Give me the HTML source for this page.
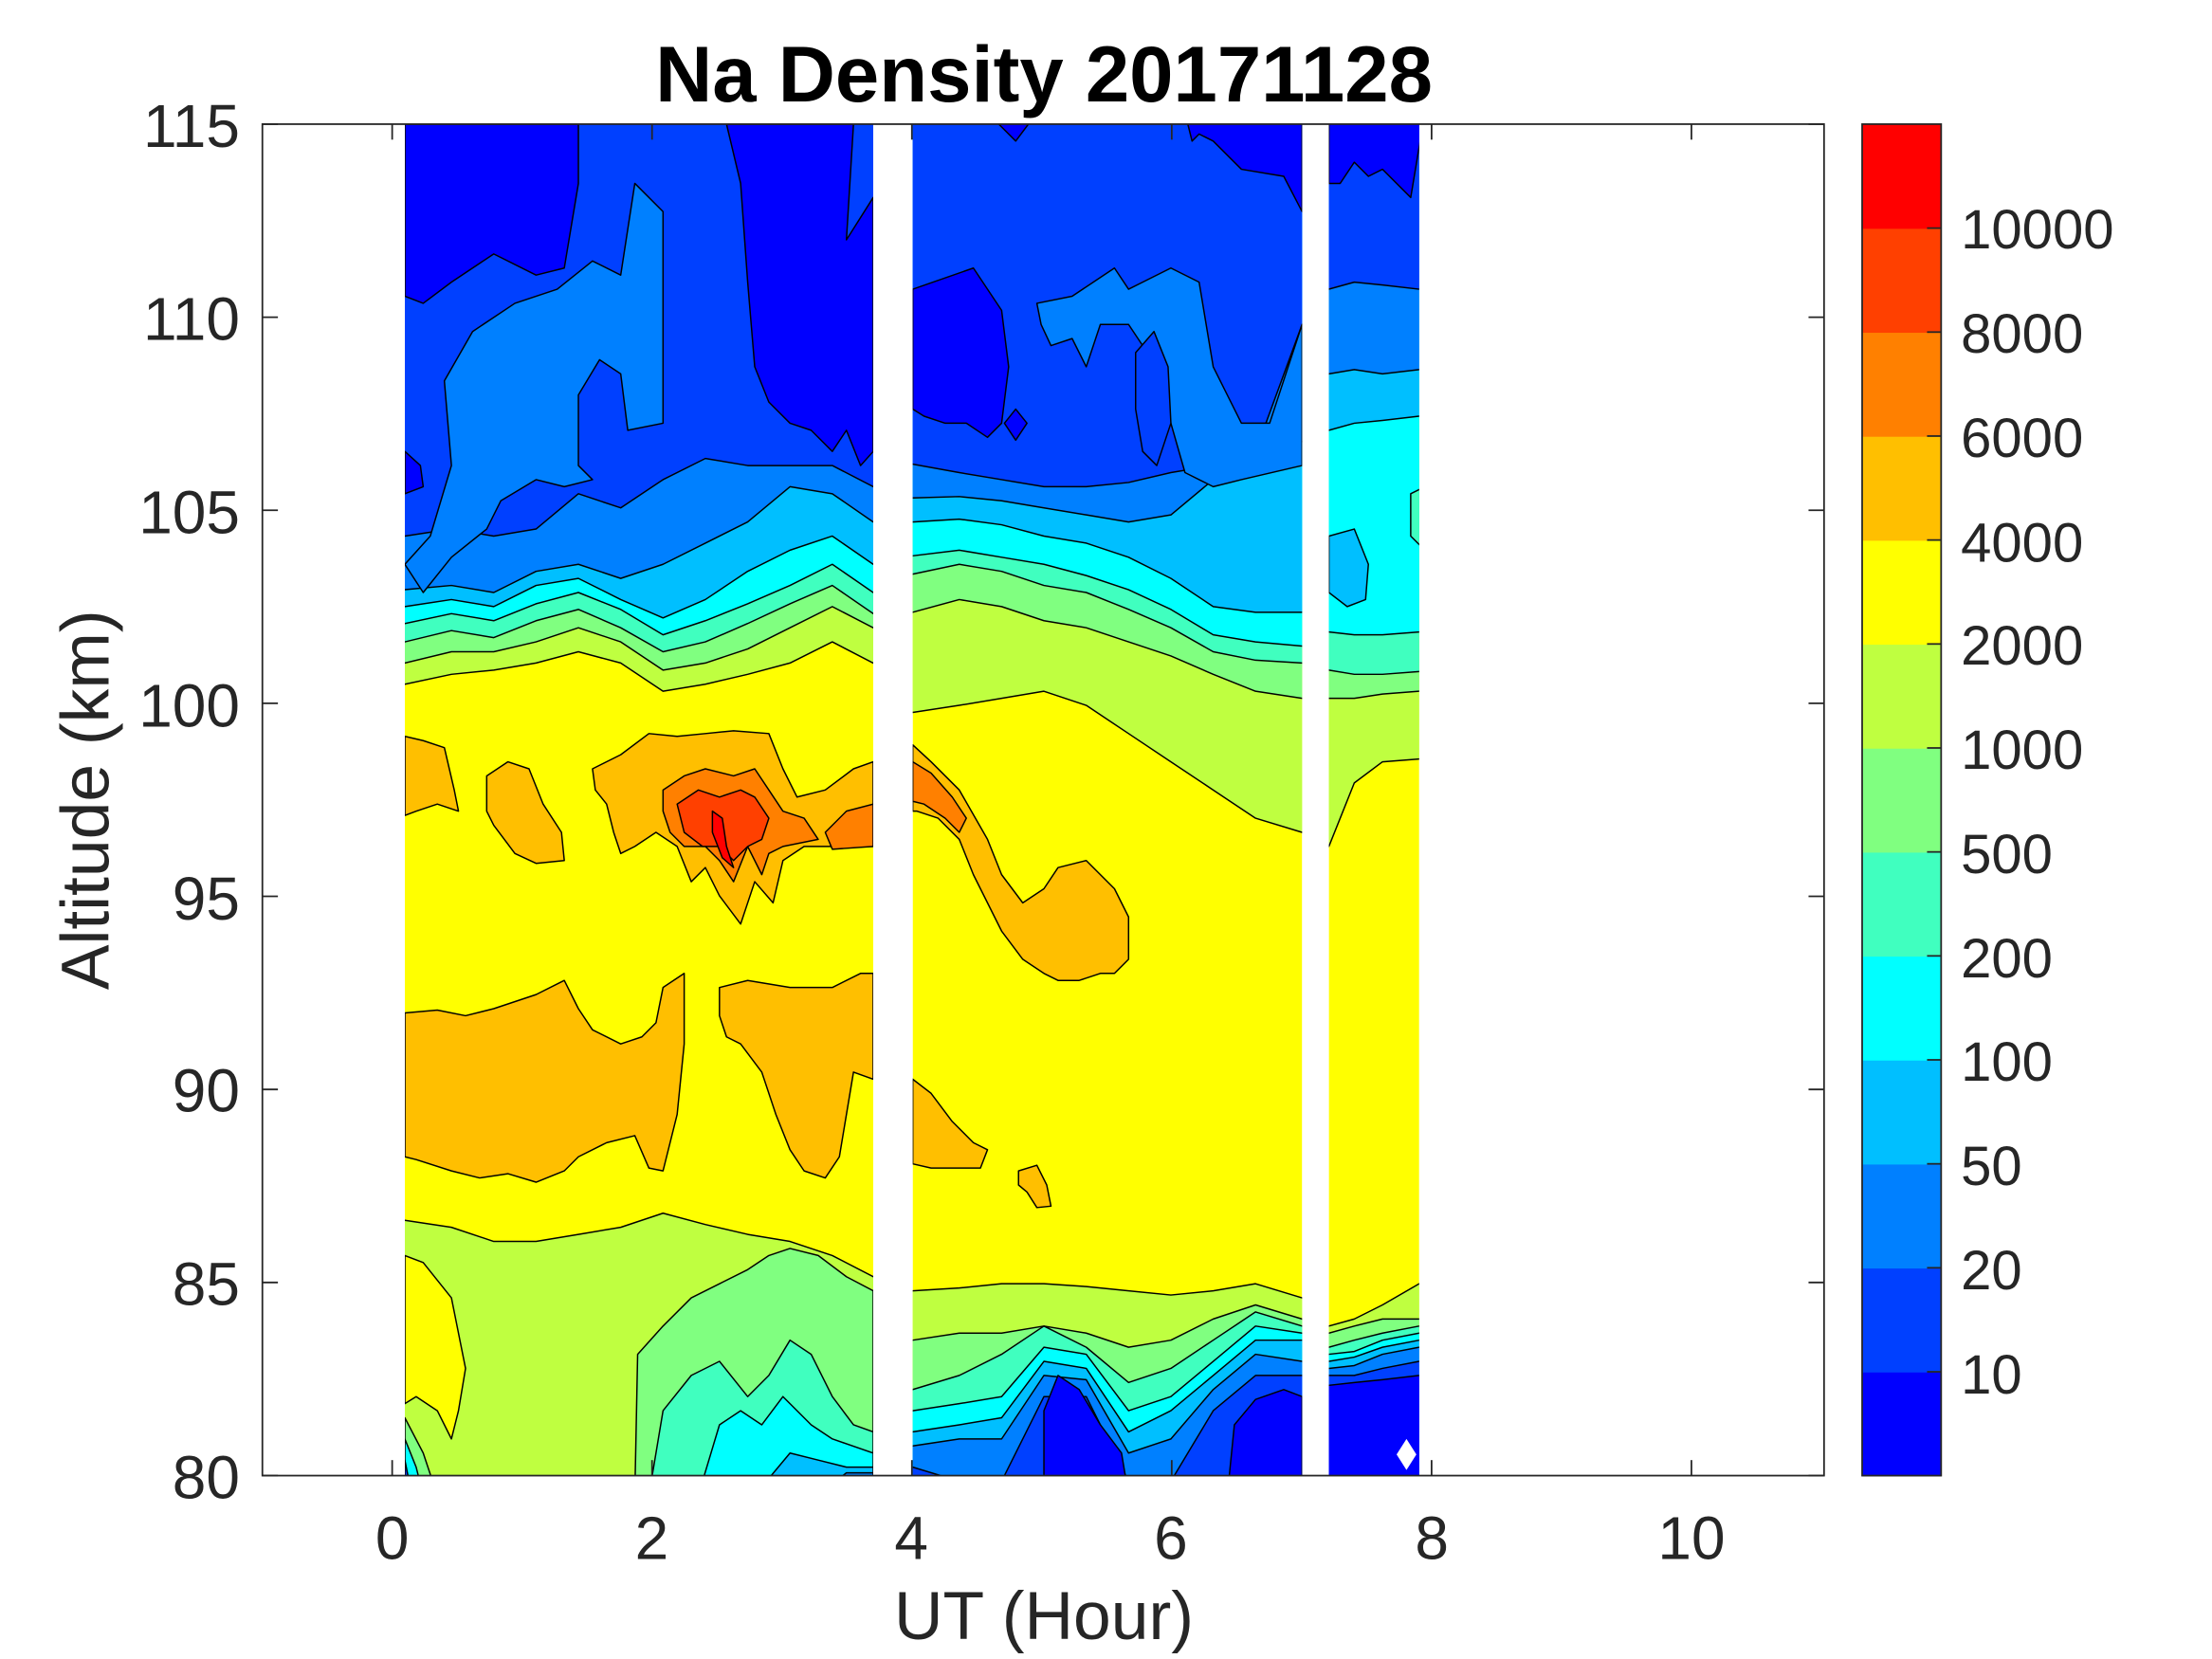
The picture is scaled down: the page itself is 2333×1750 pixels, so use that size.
<!DOCTYPE html>
<html><head><meta charset="utf-8">
<style>
html,body{margin:0;padding:0;background:#fff;}
svg{display:block;}
text{font-family:"Liberation Sans",Arial,sans-serif;fill:#262626;}
</style></head>
<body>
<svg id="s" xmlns="http://www.w3.org/2000/svg" width="2333" height="1750" viewBox="0 0 1568 1176" preserveAspectRatio="none">
<defs>
<clipPath id="c1"><rect x="287" y="88" width="332" height="958"/></clipPath>
<clipPath id="c2"><rect x="647" y="88" width="276" height="958"/></clipPath>
<clipPath id="c3"><rect x="942" y="88" width="64" height="958"/></clipPath>
</defs>
<rect x="0" y="0" width="1568" height="1176" fill="#fff"/>
<g id="g1" clip-path="url(#c1)"></g>
<g id="g2" clip-path="url(#c2)"></g>
<g id="g3" clip-path="url(#c3)"></g>
<g id="axes"></g>
<text x="740" y="72" font-size="56" font-weight="bold" text-anchor="middle" style="fill:#000">Na Density 20171128</text>
<text x="740" y="1162" font-size="48" text-anchor="middle">UT (Hour)</text>
<text transform="translate(77,567) rotate(-90)" font-size="48" text-anchor="middle">Altitude (km)</text>
<g font-size="43" text-anchor="middle">
<text x="278" y="1105">0</text><text x="462" y="1105">2</text><text x="646" y="1105">4</text>
<text x="830" y="1105">6</text><text x="1015" y="1105">8</text><text x="1199" y="1105">10</text>
</g>
<g font-size="43" text-anchor="end">
<text x="170" y="104">115</text><text x="170" y="241">110</text><text x="170" y="378">105</text>
<text x="170" y="515">100</text><text x="170" y="652">95</text><text x="170" y="788">90</text>
<text x="170" y="925">85</text><text x="170" y="1062">80</text>
</g>
<g font-size="39">
<text x="1390" y="176">10000</text><text x="1390" y="250">8000</text><text x="1390" y="324">6000</text>
<text x="1390" y="398">4000</text><text x="1390" y="471">2000</text><text x="1390" y="545">1000</text>
<text x="1390" y="619">500</text><text x="1390" y="693">200</text><text x="1390" y="766">100</text>
<text x="1390" y="840">50</text><text x="1390" y="914">20</text><text x="1390" y="988">10</text>
</g>
</svg>
<script>
var NS="http://www.w3.org/2000/svg";
var C=["#0000FF","#0040FF","#0080FF","#00BFFF","#00FFFF","#40FFBF","#80FF80","#BFFF40","#FFFF00","#FFBF00","#FF8000","#FF4000","#FF0000"];
function poly(g,pts,col){var p=document.createElementNS(NS,"polygon");
 p.setAttribute("points",pts.map(function(q){return q[0]+","+q[1];}).join(" "));
 p.setAttribute("fill",col);p.setAttribute("stroke","#000");p.setAttribute("stroke-width","1");p.setAttribute("stroke-linejoin","round");
 document.getElementById(g).appendChild(p);}
function P(a){var r=[];for(var i=0;i<a.length;i+=2)r.push([a[i],a[i+1]]);return r;}
function topBand(g,xs,ys,col){var pts=[[xs[0]-5,80]];for(var i=0;i<xs.length;i++)pts.push([xs[i],ys[i]]);pts[0]=[xs[0]-5,ys[0]];pts.unshift([xs[0]-5,80]);pts.push([xs[xs.length-1]+5,ys[ys.length-1]]);pts.push([xs[xs.length-1]+5,80]);poly(g,pts,col);}
function botBand(g,xs,ys,col){var pts=[[xs[0]-5,1060],[xs[0]-5,ys[0]]];for(var i=0;i<xs.length;i++)pts.push([xs[i],ys[i]]);pts.push([xs[xs.length-1]+5,ys[ys.length-1]]);pts.push([xs[xs.length-1]+5,1060]);poly(g,pts,col);}
function rect(g,x,y,w,h,col){var r=document.createElementNS(NS,"rect");r.setAttribute("x",x);r.setAttribute("y",y);r.setAttribute("width",w);r.setAttribute("height",h);r.setAttribute("fill",col);document.getElementById(g).appendChild(r);}

/* Block 1 */
rect("g1",287,88,332,958,C[8]);
var X1=[287,320,350,380,410,440,470,500,530,560,590,619];
topBand("g1",X1,[485,478,475,470,462,470,490,485,478,470,455,470],C[7]);
topBand("g1",X1,[470,462,462,455,445,455,475,470,460,445,430,445],C[6]);
topBand("g1",X1,[455,447,452,440,432,445,462,455,442,428,415,435],C[5]);
topBand("g1",X1,[442,435,440,428,420,432,450,440,428,415,400,420],C[4]);
topBand("g1",X1,[430,425,430,415,410,425,438,425,405,390,380,400],C[3]);
topBand("g1",X1,[418,415,420,405,400,410,400,385,370,345,350,370],C[2]);
topBand("g1",X1,[380,375,380,375,350,360,340,325,330,330,330,345],C[1]);
poly("g1",P([287,400,305,380,320,330,315,270,335,235,365,215,395,205,420,185,440,195,450,130,470,150,470,300,445,305,440,265,425,255,410,280,410,330,420,340,400,345,380,340,355,355,345,375,320,395,300,420]),C[2]);
poly("g1",P([287,88,410,88,410,130,400,190,380,195,350,180,320,200,300,215,287,210]),C[0]);
poly("g1",P([515,88,605,88,600,170,619,140,619,320,610,330,600,305,590,320,575,305,560,300,545,285,535,260,530,200,525,130]),C[0]);
poly("g1",P([287,320,298,330,300,345,287,350]),C[0]);
/* bottom */
botBand("g1",X1,[865,870,880,880,875,870,860,868,875,880,890,905],C[7]);
poly("g1",P([287,890,300,895,320,920,330,970,325,1000,320,1020,310,1000,295,990,287,995]),C[8]);
poly("g1",P([450,1060,452,960,470,940,490,920,510,910,530,900,545,890,560,885,580,890,600,905,619,915,619,1060]),C[6]);
poly("g1",P([460,1060,470,1000,490,975,510,965,530,990,545,975,560,950,575,960,590,990,605,1010,619,1015,619,1060]),C[5]);
poly("g1",P([495,1060,510,1010,525,1000,540,1010,555,990,575,1010,590,1020,619,1030,619,1060]),C[4]);
poly("g1",P([535,1060,560,1030,580,1035,600,1040,619,1040,619,1060]),C[3]);
poly("g1",P([580,1060,600,1044,619,1044,619,1060]),C[2]);
poly("g1",P([287,1005,300,1030,310,1060,287,1060]),C[6]);
poly("g1",P([287,1020,295,1040,300,1060,287,1060]),C[4]);
poly("g1",P([287,1035,292,1060,287,1060]),C[1]);
/* orange */
poly("g1",P([287,522,300,525,315,530,322,560,325,575,310,570,295,575,287,578]),C[9]);
poly("g1",P([345,550,360,540,375,545,385,570,398,590,400,610,380,612,365,605,350,585,345,575]),C[9]);
poly("g1",P([420,545,440,535,460,520,480,522,500,520,520,518,545,520,555,545,565,565,585,560,605,545,619,540,619,600,590,600,570,600,555,610,548,640,535,625,525,655,510,635,500,615,490,625,480,600,465,590,450,600,440,605,435,590,430,570,422,560]),C[9]);
poly("g1",P([470,560,485,550,500,545,520,550,535,545,545,560,555,575,570,580,580,595,555,600,545,605,540,620,530,600,520,625,510,610,500,600,485,600,475,590,470,575]),C[10]);
poly("g1",P([585,590,600,575,619,570,619,600,590,602]),C[10]);
poly("g1",P([480,570,495,560,510,565,525,560,535,565,545,580,540,595,530,600,520,610,510,600,498,600,485,590]),C[11]);
poly("g1",P([505,575,512,580,515,600,520,615,512,608,505,590]),C[12]);
poly("g1",P([287,718,310,716,330,720,350,715,380,705,400,695,410,715,420,730,440,740,455,735,465,725,470,700,485,690,485,740,480,790,470,830,460,828,450,805,430,810,410,820,400,830,380,838,360,832,340,835,320,830,295,822,287,820]),C[9]);
poly("g1",P([510,700,530,695,560,700,590,700,610,690,619,690,619,765,605,760,600,790,595,820,585,835,570,830,560,815,550,790,540,760,525,740,515,735,510,720]),C[9]);

/* Block 2 */
rect("g2",647,88,276,958,C[8]);
var X2=[647,680,710,740,770,800,830,860,890,923];
topBand("g2",X2,[505,500,495,490,500,520,540,560,580,590],C[7]);
topBand("g2",X2,[434,425,430,440,445,455,465,478,490,495],C[6]);
topBand("g2",X2,[407,400,405,415,420,432,445,462,468,470],C[5]);
topBand("g2",X2,[394,390,395,400,408,418,432,450,455,458],C[4]);
topBand("g2",X2,[370,368,372,380,385,395,410,430,434,434],C[3]);
topBand("g2",X2,[353,352,355,360,365,370,365,340,313,313],C[2]);
topBand("g2",X2,[329,335,340,345,345,342,335,330,320,230],C[1]);
poly("g2",P([735,215,760,210,790,190,800,205,810,200,830,190,850,200,860,260,880,300,900,300,923,230,923,330,880,340,860,345,840,335,830,300,820,260,800,230,780,230,770,260,760,240,745,245,738,230]),C[2]);
poly("g2",P([805,250,818,235,828,260,830,300,820,330,810,320,805,290]),C[1]);
poly("g2",P([647,205,690,190,710,220,715,260,710,300,700,310,685,300,670,300,655,295,647,290]),C[0]);
poly("g2",P([712,300,720,290,728,300,720,312]),C[0]);
poly("g2",P([840,80,923,80,923,150,910,125,880,120,860,100,850,95,845,100]),C[0]);
poly("g2",P([700,80,735,80,720,100]),C[0]);
/* bottom */
botBand("g2",X2,[915,913,910,910,912,915,918,915,910,920],C[7]);
botBand("g2",X2,[950,945,945,940,945,955,950,935,925,935],C[6]);
botBand("g2",X2,[985,975,960,940,955,980,970,950,930,940],C[5]);
botBand("g2",X2,[1000,995,990,955,960,1000,990,965,940,945],C[4]);
botBand("g2",X2,[1015,1010,1005,965,970,1015,1000,975,950,950],C[3]);
botBand("g2",X2,[1025,1020,1020,975,978,1030,1020,985,960,965],C[2]);
botBand("g2",X2,[1040,1050,1050,990,990,1050,1050,1000,975,975],C[1]);
poly("g2",P([740,1060,740,1000,750,975,765,985,780,1010,795,1030,800,1060]),C[0]);
poly("g2",P([870,1060,875,1010,890,992,910,985,923,990,923,1060]),C[0]);
/* orange */
poly("g2",P([647,528,660,540,680,560,700,595,710,620,725,640,740,630,750,615,770,610,790,630,800,650,800,680,790,690,780,690,765,695,750,695,740,690,725,680,710,660,690,620,680,595,665,580,650,575,647,575]),C[9]);
poly("g2",P([647,540,660,548,675,565,685,580,680,590,670,580,655,570,647,568]),C[10]);
poly("g2",P([647,765,660,775,675,795,690,810,700,815,695,828,680,828,660,828,647,825]),C[9]);
poly("g2",P([722,830,735,826,742,840,745,855,735,856,728,845,722,840]),C[9]);

/* Block 3 */
rect("g3",942,88,64,958,C[8]);
var X3=[942,960,980,1006];
topBand("g3",X3,[600,555,540,538],C[7]);
topBand("g3",X3,[495,495,492,490],C[6]);
topBand("g3",X3,[475,478,478,476],C[5]);
topBand("g3",X3,[448,450,450,448],C[4]);
poly("g3",P([942,380,960,375,970,400,968,425,955,430,942,420]),C[3]);
poly("g3",P([1000,350,1010,345,1010,390,1000,380]),C[5]);
topBand("g3",X3,[305,300,298,295],C[3]);
topBand("g3",X3,[265,262,265,262],C[2]);
topBand("g3",X3,[205,200,202,205],C[1]);
poly("g3",P([942,80,1010,80,1000,140,990,130,980,120,970,125,960,115,950,130,942,130]),C[0]);
botBand("g3",X3,[940,935,925,910],C[7]);
botBand("g3",X3,[945,940,935,935],C[6]);
botBand("g3",X3,[955,950,945,940],C[5]);
botBand("g3",X3,[960,958,950,945],C[4]);
botBand("g3",X3,[965,962,955,950],C[3]);
botBand("g3",X3,[970,968,960,955],C[2]);
botBand("g3",X3,[975,975,970,965],C[1]);
botBand("g3",X3,[982,980,978,975],C[0]);
(function(){var d=document.createElementNS(NS,"polygon");d.setAttribute("points","997,1020 1004,1031 997,1042 990,1031");d.setAttribute("fill","#fff");document.getElementById("g3").appendChild(d);})();

/* axes */
var ax=document.getElementById("axes");
function line(x1,y1,x2,y2,w){var l=document.createElementNS(NS,"line");l.setAttribute("x1",x1);l.setAttribute("y1",y1);l.setAttribute("x2",x2);l.setAttribute("y2",y2);l.setAttribute("stroke","#262626");l.setAttribute("stroke-width",w||1.2);ax.appendChild(l);}
var r=document.createElementNS(NS,"rect");r.setAttribute("x",186);r.setAttribute("y",88);r.setAttribute("width",1107);r.setAttribute("height",958);r.setAttribute("fill","none");r.setAttribute("stroke","#262626");r.setAttribute("stroke-width","1.2");ax.appendChild(r);
for(var v=0;v<=10;v+=2){var x=278+92.1*v;line(x,1046,x,1035);line(x,88,x,99);}
for(var k=80;k<=115;k+=5){var y=88+27.37*(115-k);line(186,y,197,y);line(1293,y,1282,y);}
/* colorbar */
for(var i=0;i<13;i++){var rr=document.createElementNS(NS,"rect");rr.setAttribute("x",1320);rr.setAttribute("y",88+73.7*(12-i));rr.setAttribute("width",56);rr.setAttribute("height",74.2);rr.setAttribute("fill",C[i]);ax.appendChild(rr);}
var cb=document.createElementNS(NS,"rect");cb.setAttribute("x",1320);cb.setAttribute("y",88);cb.setAttribute("width",56);cb.setAttribute("height",958);cb.setAttribute("fill","none");cb.setAttribute("stroke","#262626");cb.setAttribute("stroke-width","1.2");ax.appendChild(cb);
for(var i=1;i<=12;i++){var y=88+73.7*i;line(1376,y,1366,y);}
</script>
</body></html>
